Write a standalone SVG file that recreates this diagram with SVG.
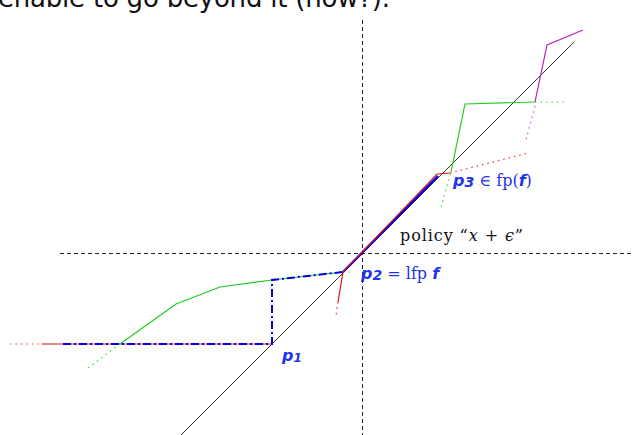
<svg xmlns="http://www.w3.org/2000/svg" width="634" height="435" viewBox="0 0 634 435">
<style>
.axis{stroke:#222;stroke-width:1;stroke-dasharray:4 3;fill:none}
.diag{stroke:#333;stroke-width:1;fill:none}
.g{stroke:#22cc22;stroke-width:1.2;fill:none}
.gd{stroke:#33dd33;stroke-width:1.2;stroke-dasharray:1.5 4;fill:none}
.r{stroke:#dd1111;stroke-width:1.2;fill:none}
.rd{stroke:#ee3333;stroke-width:1.2;stroke-dasharray:1.5 4;fill:none}
.m{stroke:#bb22bb;stroke-width:1.2;fill:none}
.md{stroke:#dd44dd;stroke-width:1.2;stroke-dasharray:1.5 4;fill:none}
.b{stroke:#0000ee;stroke-width:2;stroke-dasharray:8 3 2 3;fill:none}
.bt{stroke:#0000ee;stroke-width:2.4;fill:none}
.lab{fill:#2233ee;font-size:16px}
.ser{font-family:"DejaVu Serif","Liberation Serif",serif}
.bi{font-family:"DejaVu Sans","Liberation Sans",sans-serif;font-weight:bold;font-style:italic}
</style>
<rect width="634" height="435" fill="#fff"/>
<text x="-2" y="7" font-family="DejaVu Sans, Liberation Sans, sans-serif" font-size="26" textLength="392" fill="#111">enable to go beyond it (how?).</text>
<g id="connectors">
<line class="axis" x1="362.5" y1="20" x2="362.5" y2="435"/>
<line class="axis" x1="60" y1="253.5" x2="634" y2="253.5"/>
<line class="diag" x1="181" y1="435" x2="574" y2="42"/>
<polyline class="rd" points="10,344 42,344"/>
<polyline class="r" points="42,344 272,344"/>
<polyline class="gd" points="88,368 120,344"/>
<polyline class="g" points="120,344 176,304 220,287 272,280 343,272"/>
<polyline class="gd" points="343,272 354,272"/>
<polyline class="gd" points="441,207 451,172"/>
<polyline class="g" points="451,172 465,104 535,102"/>
<polyline class="gd" points="535,102 565,102"/>
<polyline class="m" points="535,102 547,45 583,30"/>
<polyline class="md" points="535,106 526,140"/>
<polyline class="b" points="63,344 272,344 272,280 343,272"/>
<line class="bt" x1="343" y1="272" x2="438" y2="176"/>
<polyline class="r" points="338,302 343,272 437,174 450,173"/>
<polyline class="rd" points="338,302 336,316"/>
<polyline class="rd" points="450,173 528,153"/>
</g>
<g id="p1"><text class="lab bi" x="282" y="361" font-size="14">p<tspan font-size="12" dy="1">1</tspan></text></g>
<g id="p2"><text class="lab" x="361" y="279"><tspan class="bi">p<tspan font-size="14" dy="1">2</tspan></tspan><tspan class="ser" dy="-1"> = lfp </tspan><tspan class="bi">f</tspan></text></g>
<g id="p3"><text class="lab" x="453" y="186"><tspan class="bi">p<tspan font-size="14" dy="1">3</tspan></tspan><tspan class="ser" dy="-1"> ∈ fp(</tspan><tspan class="bi">f</tspan><tspan class="ser">)</tspan></text></g>
<g id="policy"><text class="ser" x="400" y="241" font-size="16" fill="#111" textLength="123">policy “<tspan font-style="italic">x</tspan> + <tspan font-style="italic">ϵ</tspan>”</text></g>
</svg>
